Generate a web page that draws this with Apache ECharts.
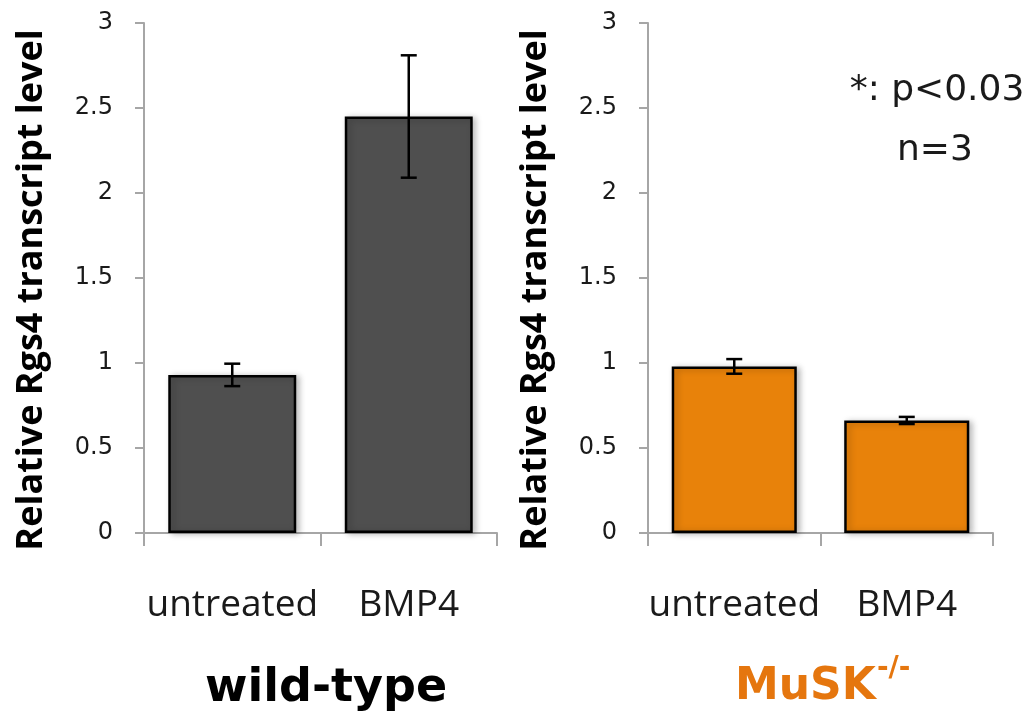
<!DOCTYPE html>
<html><head><meta charset="utf-8">
<script src="https://cdn.jsdelivr.net/npm/echarts@6/dist/echarts.min.js"></script>
<style>html,body{margin:0;padding:0;background:#fff}#c{width:1036px;height:721px}</style>
</head><body><div id="c"></div>
<script>
const categories = ['untreated', 'BMP4'];
const yTickMin = 0, yTickMax = 3, yTickStep = 0.5;
const wildTypeMeans = [0.93, 2.45];
const wildTypeErrors = [0.066, 0.36];
const muskMeans = [0.98, 0.662];
const muskErrors = [0.043, 0.021];
const yTitle = 'Relative Rgs4 transcript level';
const panelTitles = ['wild-type', 'MuSK', '-/-'];
const statsLines = ['*: p<0.03', 'n=3'];

const AXIS = '#a6a6a6';
const TXT = '#1a1a1a';
const GRAY = '#4f4f4f';
const ORANGE = '#E8820A';
const ORANGE_TXT = '#E5760E';

function errData(means, errs) {
  return means.map((m, i) => [i, m - errs[i], m + errs[i]]);
}
function errRender(params, api) {
  const x = api.value(0);
  const pLo = api.coord([x, api.value(1)]);
  const pHi = api.coord([x, api.value(2)]);
  const hw = 8;
  const st = { stroke: '#000', lineWidth: 2.5 };
  return { type: 'group', children: [
    { type: 'line', shape: { x1: pLo[0], y1: pLo[1], x2: pHi[0], y2: pHi[1] }, style: st },
    { type: 'line', shape: { x1: pLo[0] - hw, y1: pLo[1], x2: pLo[0] + hw, y2: pLo[1] }, style: st },
    { type: 'line', shape: { x1: pHi[0] - hw, y1: pHi[1], x2: pHi[0] + hw, y2: pHi[1] }, style: st }
  ]};
}
function yAx(gi) {
  return {
    type: 'value', gridIndex: gi, min: yTickMin, max: yTickMax, interval: yTickStep,
    name: yTitle, nameLocation: 'middle', nameGap: 94, nameRotate: 90,
    nameTextStyle: { fontFamily: 'Open Sans', fontWeight: 'bold', fontSize: 36, color: '#000', padding: [0, 24, 0, 0] },
    axisLine: { show: true, lineStyle: { color: AXIS, width: 2 } },
    axisTick: { show: true, length: 9, lineStyle: { color: AXIS, width: 2 } },
    splitLine: { show: false },
    axisLabel: { margin: 31, fontFamily: 'DejaVu Sans', fontSize: 24, color: TXT, hideOverlap: false }
  };
}
function xAx(gi) {
  return {
    type: 'category', gridIndex: gi, data: categories, boundaryGap: true,
    axisLine: { show: true, lineStyle: { color: AXIS, width: 2 } },
    axisTick: { show: true, length: 13, alignWithLabel: false, lineStyle: { color: AXIS, width: 2 } },
    axisLabel: { margin: 54, interval: 0, fontFamily: 'Open Sans', fontSize: 37, color: TXT, hideOverlap: false }
  };
}
const barStyle = (c) => ({ color: c, borderColor: '#000', borderWidth: 2.5,
  shadowColor: 'rgba(0,0,0,0.25)', shadowBlur: 6, shadowOffsetX: 3, shadowOffsetY: 1 });

const chart = echarts.init(document.getElementById('c'), null, { renderer: 'canvas' });
chart.setOption({
  animation: false,
  backgroundColor: '#fff',
  grid: [
    { left: 144, top: 23, width: 353, height: 510, containLabel: false, outerBoundsMode: 'none' },
    { left: 648, top: 23, width: 345, height: 510, containLabel: false, outerBoundsMode: 'none' }
  ],
  xAxis: [xAx(0), xAx(1)],
  yAxis: [yAx(0), yAx(1)],
  series: [
    { type: 'bar', xAxisIndex: 0, yAxisIndex: 0, data: wildTypeMeans, barCategoryGap: '27.5%', itemStyle: barStyle(GRAY) },
    { type: 'bar', xAxisIndex: 1, yAxisIndex: 1, data: muskMeans, barCategoryGap: '27.5%', itemStyle: barStyle(ORANGE) },
    { type: 'custom', xAxisIndex: 0, yAxisIndex: 0, data: errData(wildTypeMeans, wildTypeErrors), renderItem: errRender, encode: { x: 0, y: [1, 2] }, z: 10 },
    { type: 'custom', xAxisIndex: 1, yAxisIndex: 1, data: errData(muskMeans, muskErrors), renderItem: errRender, encode: { x: 0, y: [1, 2] }, z: 10 }
  ],
  graphic: [
    { type: 'text', x: 326, y: 689, style: { text: panelTitles[0], fontFamily: 'DejaVu Sans', fontWeight: 'bold', fontSize: 46, fill: '#000', align: 'center', verticalAlign: 'middle' } },
    { type: 'text', x: 735, y: 688, style: { text: panelTitles[1], fontFamily: 'DejaVu Sans', fontWeight: 'bold', fontSize: 44, fill: ORANGE_TXT, align: 'left', verticalAlign: 'middle' } },
    { type: 'text', x: 877, y: 669, style: { text: panelTitles[2], fontFamily: 'DejaVu Sans', fontWeight: 'bold', fontSize: 28, fill: ORANGE_TXT, align: 'left', verticalAlign: 'middle' } },
    { type: 'text', x: 937, y: 91, style: { text: statsLines[0], fontFamily: 'DejaVu Sans', fontSize: 36, fill: TXT, align: 'center', verticalAlign: 'middle' } },
    { type: 'text', x: 935, y: 151, style: { text: statsLines[1], fontFamily: 'DejaVu Sans', fontSize: 36, fill: TXT, align: 'center', verticalAlign: 'middle' } }
  ]
});
</script></body></html>
